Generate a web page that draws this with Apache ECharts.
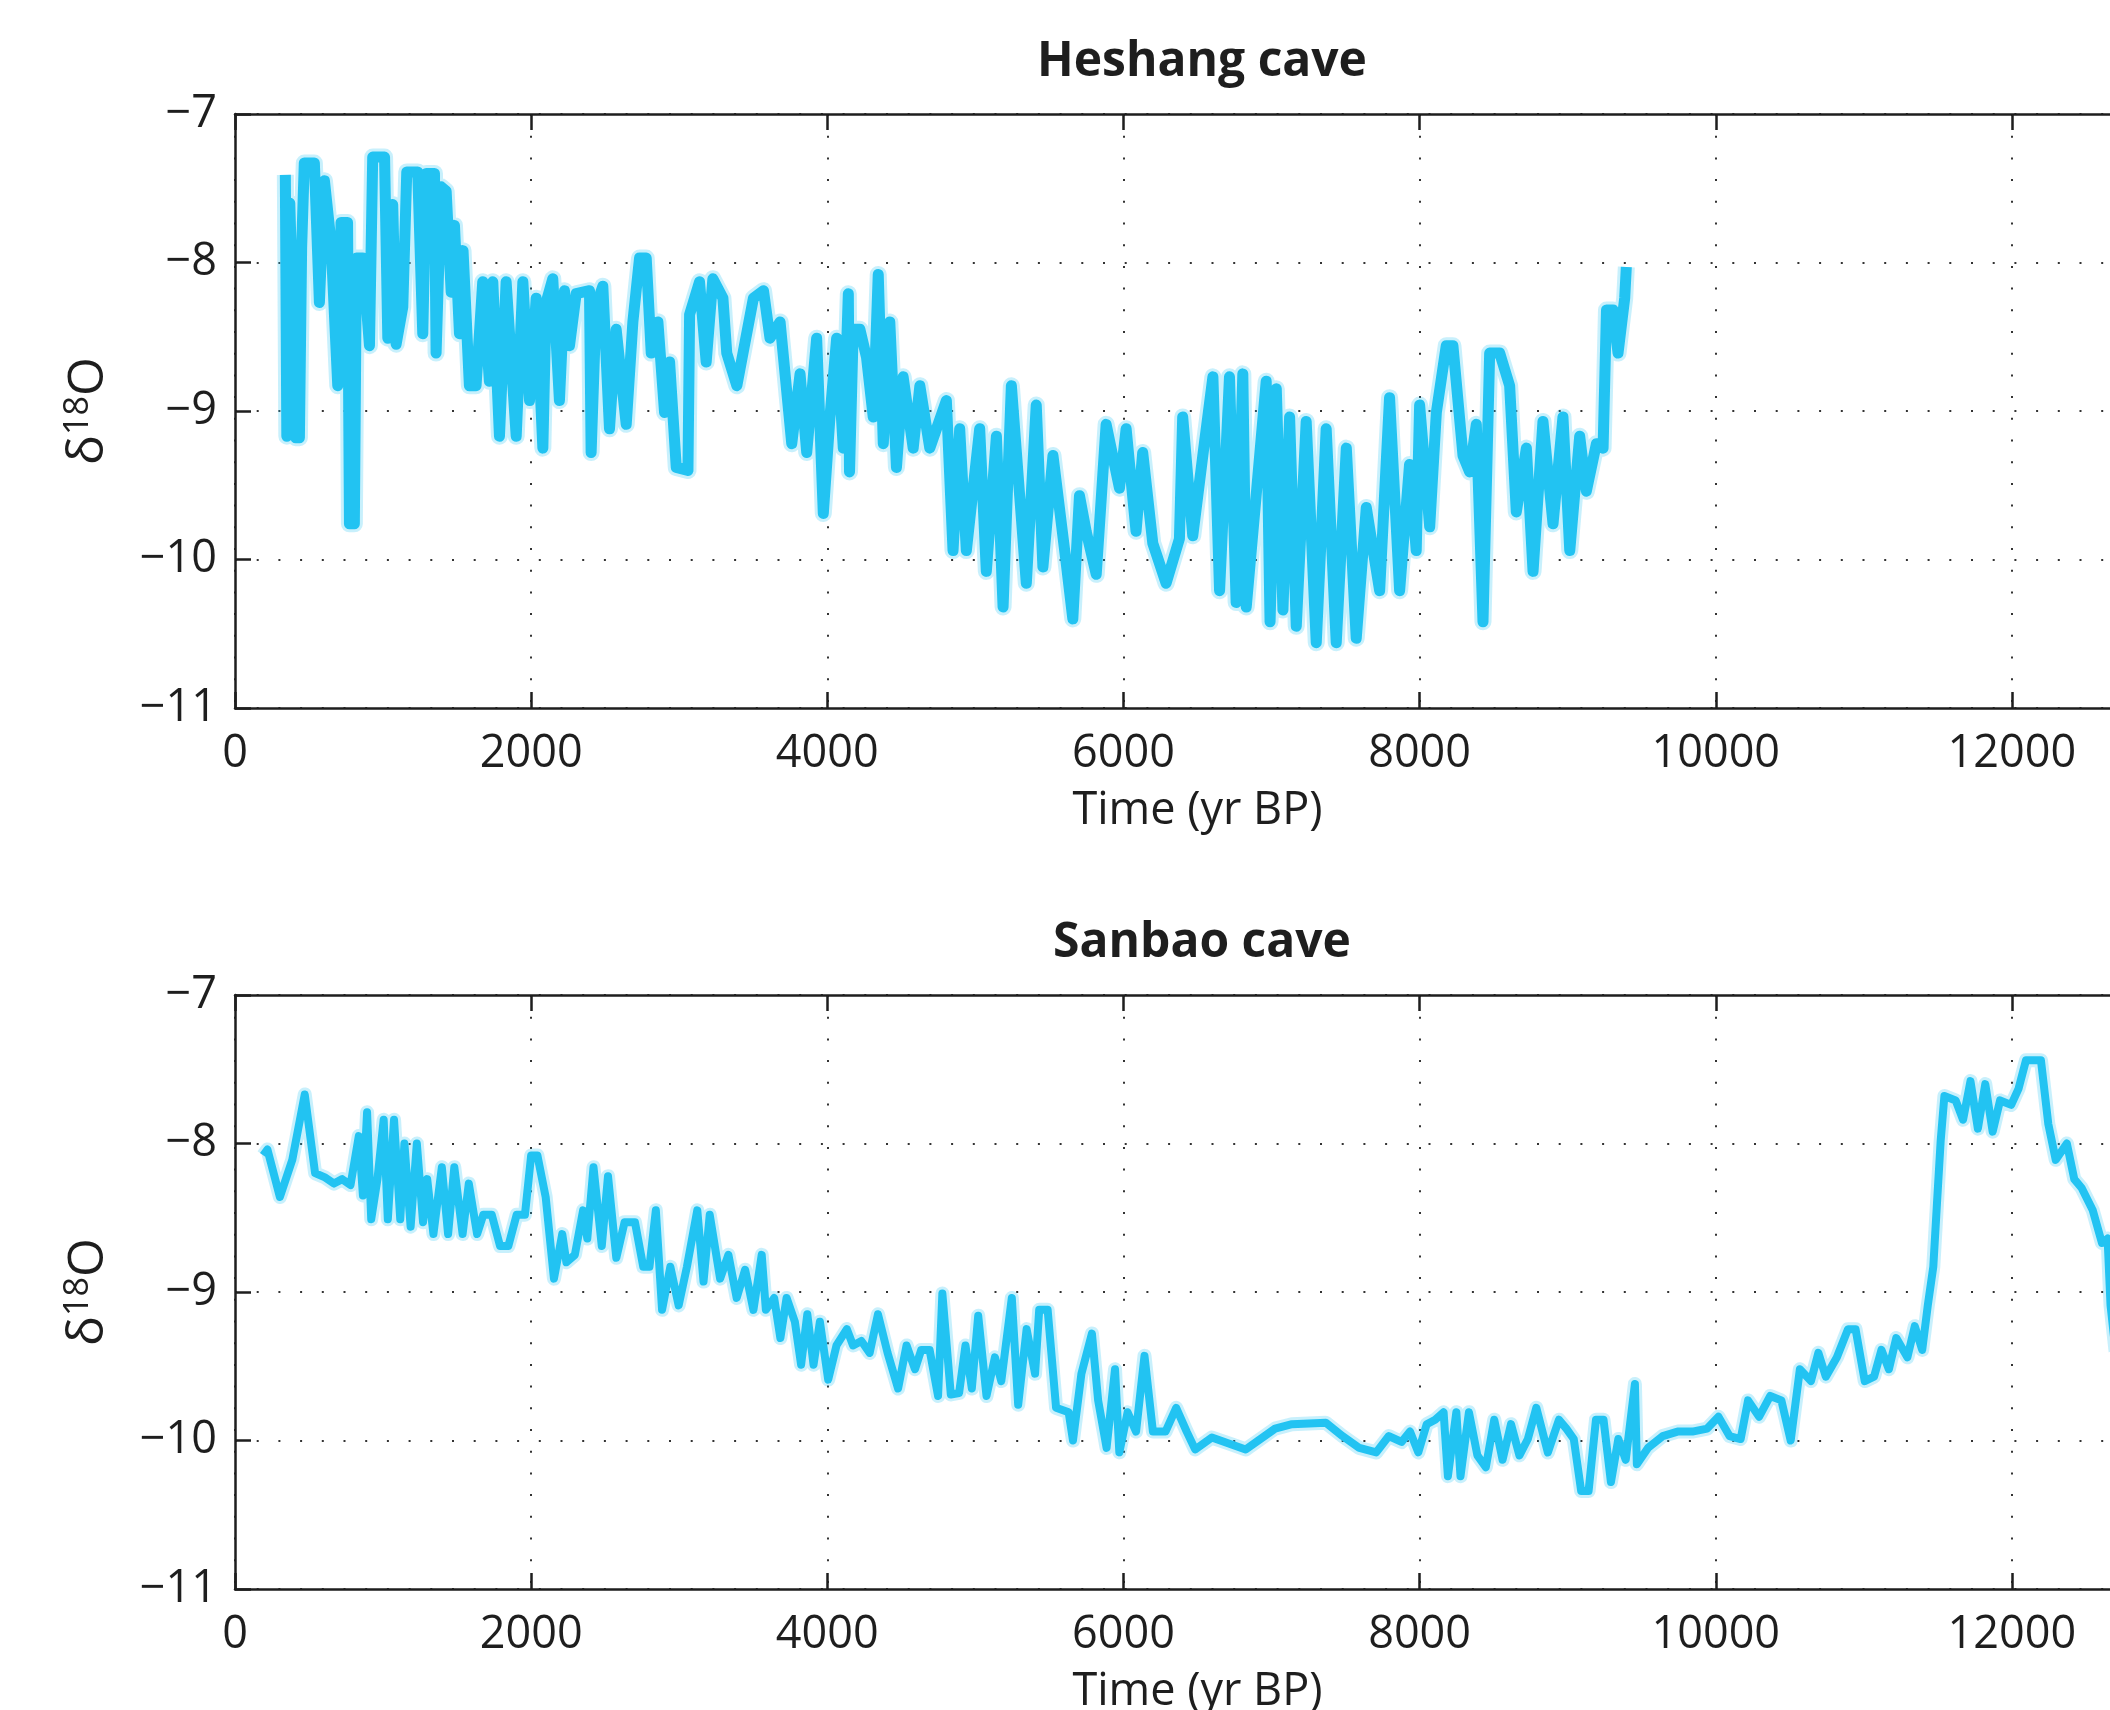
<!DOCTYPE html>
<html lang="en">

<head>
    <meta charset="UTF-8">
    <title>Heshang and Sanbao cave</title>
    <script src="https://cdn.jsdelivr.net/npm/echarts@6/dist/echarts.min.js"></script>
    <style>
        body { margin: 0; background: #fff; }
        #main { width: 2110px; height: 1710px; }
    </style>
</head>

<body>
    <div id="main"></div>
    <script>
        // Heshang cave record
        var heshangTime = [340, 350, 370, 390, 410, 435, 450, 468, 536, 570, 604, 649, 694, 716, 760, 773, 806, 820, 863, 908,
            930, 1010, 1032, 1065, 1088, 1133, 1160, 1234, 1268, 1291, 1347, 1358, 1392, 1426, 1460, 1482, 1516, 1540, 1583, 1628,
            1673, 1718, 1741, 1786, 1831, 1899, 1944, 1989, 2034, 2079, 2101, 2146, 2191, 2225, 2259, 2304, 2394, 2405, 2439, 2484,
            2529, 2574, 2642, 2687, 2732, 2777, 2811, 2856, 2901, 2935, 2980, 3059, 3070, 3137, 3182, 3227, 3295, 3321, 3389, 3440,
            3501, 3569, 3613, 3681, 3760, 3816, 3861, 3928, 3973, 4018, 4063, 4108, 4142, 4150, 4175, 4220, 4265, 4310, 4344, 4378,
            4422, 4467, 4512, 4580, 4625, 4692, 4804, 4849, 4894, 4939, 5029, 5074, 5142, 5187, 5243, 5299, 5344, 5411, 5456, 5524,
            5613, 5658, 5703, 5748, 5816, 5883, 5973, 6018, 6085, 6130, 6198, 6288, 6378, 6400, 6468, 6536, 6604, 6649, 6716, 6761,
            6806, 6829, 6896, 6964, 6990, 7032, 7077, 7122, 7167, 7234, 7302, 7369, 7437, 7505, 7572, 7640, 7730, 7797, 7865, 7932,
            7977, 8000, 8068, 8113, 8180, 8225, 8293, 8338, 8383, 8428, 8473, 8541, 8608, 8653, 8721, 8766, 8833, 8901, 8968, 9014,
            9081, 9126, 9194, 9239, 9262, 9306, 9340, 9385, 9396]
        var heshangD18O = [-7.41, -9.17, -7.60, -8.30, -9.18, -9.18, -7.90, -7.33, -7.33, -8.27, -7.45, -7.87, -8.83, -7.73, -7.73, -9.76, -9.76, -7.97, -7.97, -8.56,
            -7.29, -7.29, -8.51, -7.61, -8.55, -8.30, -7.39, -7.39, -8.48, -7.40, -7.40, -8.61, -7.49, -7.52, -8.20, -7.75, -8.48, -7.92, -8.83, -8.83,
            -8.13, -8.80, -8.13, -9.17, -8.13, -9.17, -8.13, -8.93, -8.24, -9.25, -8.27, -8.11, -8.93, -8.19, -8.56, -8.21, -8.19, -9.28, -8.29, -8.16,
            -9.12, -8.45, -9.09, -8.40, -7.97, -7.97, -8.61, -8.40, -9.01, -8.67, -9.38, -9.40, -8.35, -8.13, -8.67, -8.11, -8.24, -8.61, -8.83, -8.56,
            -8.24, -8.19, -8.51, -8.40, -9.22, -8.75, -9.28, -8.51, -9.69, -9.04, -8.51, -9.25, -8.21, -9.41, -8.45, -8.45, -8.64, -9.04, -8.08, -9.22,
            -8.40, -9.38, -8.77, -9.25, -8.83, -9.25, -8.93, -9.94, -9.12, -9.94, -9.12, -10.08, -9.17, -10.32, -8.83, -9.57, -10.16, -8.96, -10.05, -9.30,
            -10.02, -10.40, -9.57, -9.81, -10.10, -9.09, -9.52, -9.12, -9.81, -9.28, -9.89, -10.16, -9.86, -9.04, -9.84, -9.30, -8.77, -10.21, -8.77, -10.29,
            -8.75, -10.32, -9.57, -8.80, -10.42, -8.85, -10.34, -9.04, -10.45, -9.07, -10.56, -9.12, -10.56, -9.25, -10.53, -9.65, -10.21, -8.91, -10.21, -9.36,
            -9.94, -8.96, -9.78, -9.01, -8.56, -8.56, -9.30, -9.41, -9.09, -10.42, -8.61, -8.61, -8.83, -9.68, -9.25, -10.08, -9.07, -9.76, -9.04, -9.94,
            -9.17, -9.54, -9.22, -9.25, -8.32, -8.32, -8.61, -8.24, -8.03]

        // Sanbao cave record
        var sanbaoTime = [191, 219, 303, 387, 471, 541, 611, 668, 724, 780, 836, 864, 892, 920, 962, 1004, 1032, 1074, 1116, 1144,
            1186, 1228, 1270, 1298, 1340, 1397, 1439, 1481, 1537, 1579, 1635, 1677, 1734, 1790, 1846, 1902, 1958, 2000, 2042, 2098,
            2154, 2210, 2238, 2295, 2351, 2379, 2421, 2477, 2519, 2575, 2631, 2701, 2757, 2799, 2842, 2884, 2940, 2996, 3052, 3122,
            3164, 3206, 3276, 3332, 3388, 3445, 3501, 3557, 3585, 3641, 3683, 3725, 3781, 3823, 3865, 3907, 3950, 4006, 4062, 4132,
            4174, 4230, 4286, 4342, 4407, 4478, 4535, 4592, 4634, 4691, 4748, 4777, 4834, 4890, 4933, 4976, 5019, 5075, 5132, 5175,
            5246, 5289, 5346, 5403, 5431, 5488, 5545, 5630, 5659, 5716, 5787, 5829, 5886, 5943, 5972, 6028, 6085, 6142, 6199, 6284,
            6356, 6427, 6484, 6597, 6711, 6825, 7024, 7138, 7366, 7479, 7593, 7707, 7792, 7878, 7935, 7991, 8048, 8105, 8162, 8191,
            8248, 8276, 8333, 8390, 8447, 8504, 8560, 8617, 8674, 8731, 8788, 8866, 8941, 8991, 9041, 9091, 9141, 9191, 9242, 9292,
            9342, 9392, 9454, 9467, 9542, 9642, 9742, 9842, 9942, 10018, 10093, 10168, 10218, 10293, 10368, 10443, 10506, 10568, 10643, 10693,
            10743, 10818, 10893, 10944, 11006, 11069, 11119, 11169, 11219, 11294, 11344, 11394, 11432, 11469, 11494, 11519, 11544, 11620, 11670, 11720,
            11770, 11820, 11870, 11920, 11995, 12045, 12095, 12196, 12246, 12296, 12371, 12421, 12471, 12546, 12608, 12646, 12666, 12700]
        var sanbaoD18O = [-8.08, -8.04, -8.36, -8.11, -7.67, -8.20, -8.23, -8.27, -8.24, -8.28, -7.95, -8.35, -7.79, -8.51, -8.24, -7.84, -8.51, -7.84, -8.51, -8.00,
            -8.56, -8.00, -8.53, -8.24, -8.61, -8.16, -8.61, -8.16, -8.61, -8.27, -8.61, -8.48, -8.48, -8.69, -8.69, -8.48, -8.48, -8.08, -8.08, -8.36,
            -8.91, -8.61, -8.80, -8.75, -8.45, -8.64, -8.16, -8.69, -8.22, -8.77, -8.53, -8.53, -8.83, -8.83, -8.45, -9.12, -8.83, -9.09, -8.83, -8.45,
            -8.93, -8.48, -8.91, -8.75, -9.04, -8.85, -9.12, -8.75, -9.12, -9.04, -9.31, -9.04, -9.20, -9.49, -9.15, -9.49, -9.20, -9.59, -9.36, -9.25,
            -9.36, -9.33, -9.41, -9.15, -9.41, -9.65, -9.36, -9.52, -9.39, -9.39, -9.70, -9.01, -9.69, -9.68, -9.36, -9.65, -9.16, -9.70, -9.44, -9.60,
            -9.04, -9.76, -9.25, -9.55, -9.12, -9.12, -9.78, -9.81, -10.00, -9.55, -9.28, -9.73, -10.05, -9.52, -10.08, -9.81, -9.94, -9.43, -9.94, -9.94,
            -9.78, -9.94, -10.06, -9.98, -10.02, -10.06, -9.92, -9.89, -9.88, -9.97, -10.05, -10.08, -9.97, -10.01, -9.94, -10.08, -9.89, -9.86, -9.81, -10.24,
            -9.81, -10.24, -9.81, -10.10, -10.18, -9.86, -10.13, -9.89, -10.10, -9.99, -9.78, -10.08, -9.86, -9.92, -9.99, -10.34, -10.34, -9.86, -9.86, -10.28,
            -9.99, -10.13, -9.62, -10.16, -10.05, -9.97, -9.94, -9.94, -9.92, -9.84, -9.97, -9.99, -9.73, -9.84, -9.70, -9.73, -10.00, -9.52, -9.60, -9.41,
            -9.57, -9.44, -9.25, -9.25, -9.60, -9.57, -9.39, -9.52, -9.31, -9.44, -9.23, -9.39, -9.09, -8.83, -8.40, -7.98, -7.68, -7.71, -7.84, -7.58,
            -7.90, -7.60, -7.92, -7.71, -7.74, -7.63, -7.44, -7.44, -7.87, -8.11, -8.00, -8.24, -8.30, -8.45, -8.67, -8.64, -9.09, -9.40]

        var titles = ['Heshang cave', 'Sanbao cave']
        var xName = 'Time (yr BP)'

        function zip(a, b) {
            var out = []
            for (var i = 0; i < a.length; i++) {
                out.push([a[i], b[i]])
            }
            return out
        }

        var font = 'Open Sans'
        var ink = '#1e1e1e'
        var lineColor = '#22c3f2'
        var gridTops = [114, 995]

        var grids = [], xAxes = [], yAxes = [], titleList = []
        gridTops.forEach(function(top, i) {
            // plot box runs past the right edge of the page, like the cropped figure
            grids.push({ left: 235, top: top, width: 1925, height: 594, outerBoundsMode: 'none', containLabel: false })
            titleList.push({
                text: titles[i],
                left: 1197,
                top: top - 81,
                textAlign: 'center',
                textStyle: { fontFamily: font, fontWeight: 'bold', fontSize: 48, color: ink }
            })
            // bottom axis with labels
            xAxes.push({
                gridIndex: i,
                type: 'value',
                min: 0,
                max: 13000,
                interval: 2000,
                position: 'bottom',
                name: xName,
                nameLocation: 'middle',
                nameGap: 81,
                nameTextStyle: { fontFamily: font, fontSize: 45, color: ink },
                axisLine: { lineStyle: { color: ink, width: 2.5 } },
                axisTick: { inside: true, length: 16, lineStyle: { color: ink, width: 2.5 } },
                axisLabel: {
                    fontFamily: font, fontSize: 45, color: ink, margin: 24, showMaxLabel: false,
                    formatter: function(v) { return String(v) }
                },
                splitLine: { show: true, lineStyle: { color: '#333', width: 2, type: [2, 19.7] } }
            })
            // top edge of the box
            xAxes.push({
                gridIndex: i,
                type: 'value',
                min: 0,
                max: 13000,
                interval: 2000,
                position: 'top',
                axisLine: { lineStyle: { color: ink, width: 2.5 } },
                axisTick: { inside: true, length: 16, lineStyle: { color: ink, width: 2.5 } },
                axisLabel: { show: false },
                splitLine: { show: false }
            })
            yAxes.push({
                gridIndex: i,
                type: 'value',
                min: -11,
                max: -7,
                interval: 1,
                name: '{d|δ}{s|18}{o|O}',
                nameLocation: 'middle',
                nameGap: 116,
                nameTextStyle: {
                    color: ink,
                    rich: {
                        d: { fontFamily: font, fontSize: 50, color: ink, lineHeight: 60 },
                        s: { fontFamily: font, fontSize: 34, color: ink, lineHeight: 60, padding: [0, 0, 22, 0] },
                        o: { fontFamily: font, fontSize: 50, color: ink, lineHeight: 60 }
                    }
                },
                axisLine: { lineStyle: { color: ink, width: 2.5 } },
                axisTick: { inside: true, length: 16, lineStyle: { color: ink, width: 2.5 } },
                axisLabel: {
                    fontFamily: font, fontSize: 45, color: ink, margin: 18,
                    formatter: function(v) { return String(v).replace('-', '\u2212') }
                },
                splitLine: { show: true, lineStyle: { color: '#333', width: 2, type: [2, 19.7] } }
            })
        })

        // soft halo under a solid core, like the overlapping ensemble traces
        function caveSeries(xi, yi, data, core) {
            return [{
                type: 'line',
                xAxisIndex: xi,
                yAxisIndex: yi,
                data: data,
                showSymbol: false,
                silent: true,
                lineStyle: { color: lineColor, width: core + 6, opacity: 0.25, join: 'round' }
            }, {
                type: 'line',
                xAxisIndex: xi,
                yAxisIndex: yi,
                data: data,
                showSymbol: false,
                lineStyle: { color: lineColor, width: core, join: 'round' }
            }]
        }

        var myChart = echarts.init(document.getElementById('main'))
        myChart.setOption({
            animation: false,
            backgroundColor: '#fff',
            title: titleList,
            grid: grids,
            xAxis: xAxes,
            yAxis: yAxes,
            series: caveSeries(0, 0, zip(heshangTime, heshangD18O), 11)
                .concat(caveSeries(2, 1, zip(sanbaoTime, sanbaoD18O), 8))
        })
    </script>
</body>

</html>
